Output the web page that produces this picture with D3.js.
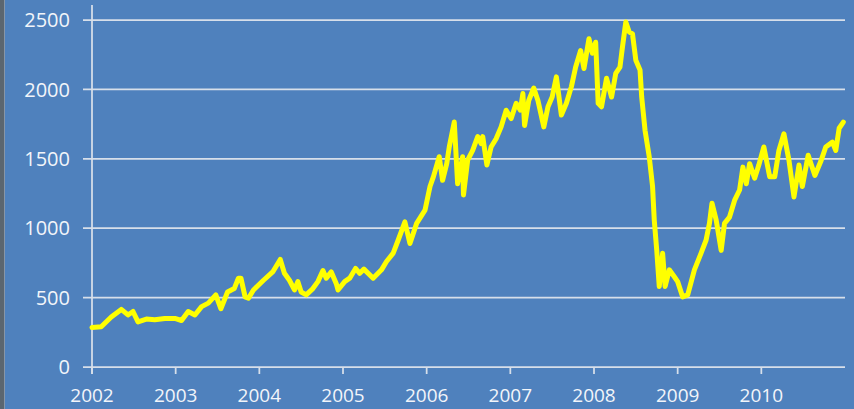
<!DOCTYPE html>
<html>
<head>
<meta charset="utf-8">
<script src="https://cdn.jsdelivr.net/npm/d3@7"></script>
<style>
  html, body { margin: 0; padding: 0; background: #4f81bd; overflow: hidden; }
  svg { display: block; }
</style>
</head>
<body>
<svg></svg>
<script>
// Index values (decimal year, value)
const years = [
    2002.00, 2002.11, 2002.23, 2002.35, 2002.43, 2002.49, 2002.55, 2002.65, 2002.75, 2002.87,
    2002.99, 2003.07, 2003.15, 2003.23, 2003.31, 2003.39, 2003.48, 2003.54, 2003.62, 2003.70,
    2003.75, 2003.78, 2003.83, 2003.87, 2003.93, 2004.05, 2004.16, 2004.25, 2004.30, 2004.36,
    2004.42, 2004.46, 2004.50, 2004.56, 2004.64, 2004.70, 2004.76, 2004.80, 2004.86, 2004.92,
    2004.94, 2005.02, 2005.08, 2005.15, 2005.20, 2005.25, 2005.36, 2005.46, 2005.52, 2005.60,
    2005.66, 2005.74, 2005.80, 2005.88, 2005.98, 2006.04, 2006.08, 2006.15, 2006.19, 2006.24,
    2006.27, 2006.33, 2006.37, 2006.43, 2006.44, 2006.49, 2006.55, 2006.61, 2006.65, 2006.67,
    2006.72, 2006.77, 2006.83, 2006.89, 2006.95, 2007.01, 2007.07, 2007.12, 2007.15, 2007.17,
    2007.22, 2007.28, 2007.33, 2007.40, 2007.45, 2007.50, 2007.55, 2007.61, 2007.67, 2007.73,
    2007.78, 2007.84, 2007.88, 2007.94, 2007.98, 2008.02, 2008.05, 2008.09, 2008.15, 2008.21,
    2008.26, 2008.31, 2008.34, 2008.38, 2008.42, 2008.46, 2008.50, 2008.55, 2008.57, 2008.61,
    2008.66, 2008.70, 2008.72, 2008.75, 2008.78, 2008.82, 2008.85, 2008.90, 2008.96, 2009.00,
    2009.06, 2009.12, 2009.20, 2009.28, 2009.34, 2009.38, 2009.41, 2009.46, 2009.52, 2009.56,
    2009.62, 2009.68, 2009.74, 2009.78, 2009.82, 2009.86, 2009.92, 2009.97, 2010.03, 2010.10,
    2010.16, 2010.21, 2010.27, 2010.33, 2010.39, 2010.45, 2010.49, 2010.56, 2010.64, 2010.71,
    2010.77, 2010.85, 2010.89, 2010.93, 2010.98
];
const values = [
    285, 290, 360, 415, 375, 400, 325, 345, 340, 350,
    350, 335, 400, 375, 435, 460, 520, 420, 540, 565,
    640, 640, 505, 495, 555, 625, 685, 775, 675, 625,
    555, 615, 540, 520, 565, 615, 695, 640, 685, 600,
    555, 615, 640, 710, 675, 705, 640, 700, 760, 820,
    915, 1045, 890, 1035, 1130, 1300, 1370, 1515, 1345, 1465,
    1585, 1765, 1320, 1515, 1240, 1490, 1560, 1660, 1610, 1660,
    1455, 1585, 1645, 1730, 1850, 1790, 1900, 1850, 1970, 1740,
    1920, 2010, 1920, 1730, 1875, 1945, 2090, 1815, 1900, 2020,
    2160, 2280, 2150, 2365, 2260, 2340, 1900, 1875, 2080, 1945,
    2115, 2160, 2305, 2485, 2415, 2400, 2210, 2140, 1945, 1705,
    1515, 1300, 1060, 840, 580, 820, 580, 700, 650, 615,
    505, 520, 700, 820, 915, 1035, 1180, 1060, 840, 1035,
    1080, 1200, 1275, 1440, 1320, 1465, 1360, 1455, 1585, 1370,
    1370, 1560, 1680, 1490, 1225, 1455, 1300, 1525, 1380, 1480,
    1585, 1620, 1560, 1720, 1765
];
const yTicks = [0, 500, 1000, 1500, 2000, 2500];
const xTicks = [2002, 2003, 2004, 2005, 2006, 2007, 2008, 2009, 2010];

window.onload = function(){
    drawChart();
}

function drawChart()
{
    const width = 854;
    const height = 409;
    const gridColor = "#d7dfea";

    const svg = d3.select("svg")
        .attr("width", width)
        .attr("height", height);

    // background and the grey strip at the left edge
    svg.append("rect")
        .attr("width", width)
        .attr("height", height)
        .attr("fill", "#4f81bd");
    svg.append("rect")
        .attr("x", 0).attr("y", 0)
        .attr("width", 4).attr("height", height)
        .attr("fill", "#5b6670");
    svg.append("rect")
        .attr("x", 4).attr("y", 0)
        .attr("width", 1).attr("height", height)
        .attr("fill", "#8796a8");

    const x = d3.scaleLinear()
        .domain([2002, 2011])
        .range([92, 845]);

    const y = d3.scaleLinear()
        .domain([0, 2500])
        .range([367, 20]);

    // horizontal gridlines (start a bit left of the axis, like tick marks)
    svg.append("g")
        .selectAll("line")
        .data(yTicks)
        .join("line")
            .attr("x1", 83)
            .attr("x2", x(2011))
            .attr("y1", d => y(d))
            .attr("y2", d => y(d))
            .attr("stroke", gridColor)
            .attr("stroke-width", 1.75);

    // vertical axis line
    svg.append("line")
        .attr("x1", x(2002)).attr("x2", x(2002))
        .attr("y1", 5).attr("y2", y(0) + 7)
        .attr("stroke", gridColor)
        .attr("stroke-width", 1.75);

    // x tick marks below the axis
    svg.append("g")
        .selectAll("line")
        .data(xTicks)
        .join("line")
            .attr("x1", d => x(d))
            .attr("x2", d => x(d))
            .attr("y1", y(0))
            .attr("y2", y(0) + 7)
            .attr("stroke", gridColor)
            .attr("stroke-width", 1.75);

    // y labels
    svg.append("g")
        .selectAll("text")
        .data(yTicks)
        .join("text")
            .attr("x", 70)
            .attr("y", d => y(d))
            .attr("dy", "0.36em")
            .attr("text-anchor", "end")
            .attr("font-family", "'Open Sans', sans-serif")
            .attr("font-size", "20px")
            .attr("fill", "#f2f5fa")
            .text(d => d);

    // x labels
    svg.append("g")
        .selectAll("text")
        .data(xTicks)
        .join("text")
            .attr("x", d => x(d))
            .attr("y", 402)
            .attr("text-anchor", "middle")
            .attr("font-family", "'Open Sans', sans-serif")
            .attr("font-size", "19px")
            .attr("fill", "#f2f5fa")
            .text(d => d);

    // the yellow series
    const points = years.map((d, i) => [d, values[i]]);
    const line = d3.line()
        .x(d => x(d[0]))
        .y(d => y(d[1]));

    svg.append("path")
        .datum(points)
        .attr("d", line)
        .attr("fill", "none")
        .attr("stroke", "#ffff00")
        .attr("stroke-width", 5)
        .attr("stroke-linejoin", "round")
        .attr("stroke-linecap", "round");
}
</script>
</body>
</html>
